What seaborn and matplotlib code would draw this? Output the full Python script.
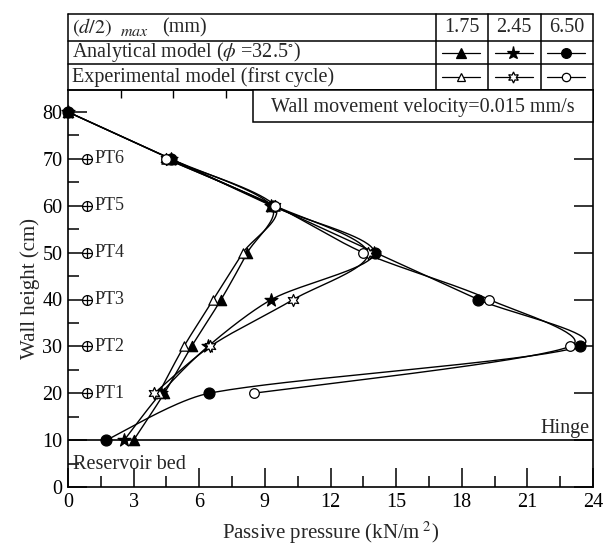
import numpy as np
import pandas as pd
import matplotlib
matplotlib.use("Agg")
import matplotlib.pyplot as plt
import seaborn as sns
from matplotlib.transforms import blended_transform_factory
from matplotlib.patches import Rectangle

# ---------------- data ----------------
heights_analytical = [80, 70, 60, 50, 40, 30, 20, 10]
analytical_175 = [0.0, 4.7, 9.3, 8.2, 7.0, 5.65, 4.4, 3.0]
analytical_245 = [0.0, 4.7, 9.3, 14.0, 9.3, 6.4, 4.25, 2.57]
analytical_650 = [0.0, 4.7, 9.37, 14.05, 18.75, 23.4, 6.45, 1.75]

heights_experimental = [70, 60, 50, 40, 30, 20]
experimental_175 = [4.5, 9.45, 8.0, 6.65, 5.3, 4.15]
experimental_245 = [4.5, 9.45, 13.7, 10.3, 6.5, 3.95]
experimental_650 = [4.48, 9.45, 13.5, 19.25, 22.95, 8.5]

disp_labels = ["1.75", "2.45", "6.50"]
pt_labels = ["PT1", "PT2", "PT3", "PT4", "PT5", "PT6"]
pt_heights = [20, 30, 40, 50, 60, 70]
x_ticks = [0, 3, 6, 9, 12, 15, 18, 21, 24]
y_ticks = [0, 10, 20, 30, 40, 50, 60, 70, 80]
top_ticks = [2.4, 4.8, 7.2, 9.6, 12.0, 14.4, 16.8, 19.2, 21.6]
table_cols = [16.8, 19.2, 21.6, 24.0]

# ---------------- style ----------------
sns.set_theme(style="ticks")
plt.rcParams['font.family'] = ['Liberation Serif', 'DejaVu Serif']
plt.rcParams['mathtext.fontset'] = 'stix'
FS = 14.5

W, H = 605, 551
fig = plt.figure(figsize=(W / 100, H / 100), dpi=100)
fig.patch.set_facecolor("white")
L, R, B, T = 68, 593, 487, 90
ax = fig.add_axes([L / W, 1 - B / H, (R - L) / W, (B - T) / H])
ax.set_facecolor("white")

XMAX, YMAX = 24, (B - T) / ((B - 112) / 80)
ax.set_xlim(0, XMAX)
ax.set_ylim(0, YMAX)
SX = (R - L) / XMAX
SY = (B - T) / YMAX


def smooth(xs, ys, n=40, cap=0.3):
    """Smoothed (Bezier / Catmull-Rom style) rendering of a polyline, in pixel space."""
    P = np.column_stack([np.asarray(xs, float) * SX, np.asarray(ys, float) * SY])
    Pe = np.vstack([P[0], P, P[-1]])
    t = np.linspace(0, 1, n)[:, None]
    out = []
    for i in range(len(P) - 1):
        p0, p3 = Pe[i + 1], Pe[i + 2]
        seg_len = np.linalg.norm(p3 - p0)
        d1 = (Pe[i + 2] - Pe[i]) / 6
        d2 = (Pe[i + 3] - Pe[i + 1]) / 6
        for d in (d1, d2):
            nrm = np.linalg.norm(d)
            if nrm > cap * seg_len:
                d *= cap * seg_len / nrm
        c1 = p0 + d1
        c2 = p3 - d2
        seg = (1 - t) ** 3 * p0 + 3 * (1 - t) ** 2 * t * c1 + 3 * (1 - t) * t ** 2 * c2 + t ** 3 * p3
        out.append(seg if i == 0 else seg[1:])
    out = np.vstack(out)
    return out[:, 0] / SX, out[:, 1] / SY


series = [
    (analytical_175, heights_analytical, '^', True, 55),
    (analytical_245, heights_analytical, '*', True, 95),
    (analytical_650, heights_analytical, 'o', True, 62),
    (experimental_175, heights_experimental, '^', False, 45),
    (experimental_245, heights_experimental, (6, 1, 0), False, 75),
    (experimental_650, heights_experimental, 'o', False, 48),
]

for xs, ys, mk, filled, s in series:
    cx, cy = smooth(xs, ys)
    sns.lineplot(x=cx, y=cy, sort=False, estimator=None, color="black",
                 lw=1.0, ax=ax, zorder=2)
for xs, ys, mk, filled, s in series:
    df = pd.DataFrame({"p": xs, "h": ys})
    sns.scatterplot(data=df, x="p", y="h", marker=mk, s=s,
                    color="black" if filled else "white",
                    edgecolor="black", linewidth=0.9, ax=ax, zorder=4,
                    clip_on=False)

# pressure transducers
dfpt = pd.DataFrame({"x": [0.87] * len(pt_heights), "h": pt_heights})
sns.scatterplot(data=dfpt, x="x", y="h", marker="o", s=50, color="white",
                edgecolor="black", linewidth=0.9, ax=ax, zorder=4)
sns.scatterplot(data=dfpt, x="x", y="h", marker="+", s=50, color="black",
                linewidth=0.9, ax=ax, zorder=5)
for lab, h in zip(pt_labels, pt_heights):
    ax.text(1.2, h, lab, fontsize=13, va="center", ha="left")

# hinge line and labels
ax.axhline(10, color="black", lw=1.2, zorder=1)
ax.text(23.85, 10.4, "Hinge", fontsize=FS, ha="right", va="bottom")
ax.text(0.25, 4.7, "Reservoir bed", fontsize=FS, ha="left", va="center")

# axes styling
for sp in ax.spines.values():
    sp.set_color("black")
    sp.set_linewidth(1.2)
ax.set_xticks(x_ticks)
ax.set_yticks(y_ticks)
ax.set_xticks(np.arange(1.5, 24, 3), minor=True)
ax.set_yticks(np.arange(5, 85, 10), minor=True)
ax.tick_params(axis="both", which="major", direction="in", length=14, width=1.1,
               color="black", labelsize=FS, labelcolor="black", pad=4)
ax.tick_params(axis="both", which="minor", direction="in", length=8, width=1.1,
               color="black")
ax.tick_params(axis="y", which="major", right=True)
ax.tick_params(axis="y", which="minor", right=False)
ax.tick_params(axis="x", which="both", top=False)
ax.set_xlabel(r"Passive pressure (kN/m$^{\ 2}$)", fontsize=FS + 0.5, labelpad=6)
ax.set_ylabel("Wall height (cm)", fontsize=FS + 0.5, labelpad=2)

sec = ax.secondary_xaxis("top")
sec.set_xticks(top_ticks)
sec.tick_params(direction="in", length=6, width=1.0, labeltop=False, color="black")
sec.spines["top"].set_linewidth(1.2)

# wall movement box
tr = blended_transform_factory(ax.transData, ax.transAxes)
box_bottom = (B - 122) / (B - T)
ax.add_patch(Rectangle((8.46, box_bottom), XMAX - 8.46, 1 - box_bottom, transform=tr,
                       facecolor="white", edgecolor="black", lw=1.1, zorder=6,
                       clip_on=False))
ax.text((8.46 + XMAX) / 2, (box_bottom + 1) / 2 - 0.003,
        "Wall movement velocity=0.015 mm/s", transform=tr, fontsize=FS,
        ha="center", va="center", zorder=7)


# table above the axes
def ay(px):
    return (B - px) / (B - T)


rows = [ay(14), ay(41), ay(64), 1.0]
for yv in rows[:-1]:
    ax.plot([0, XMAX], [yv, yv], transform=tr, color="black", lw=1.1, clip_on=False)
ax.plot([0, 0], [1.0, rows[0]], transform=tr, color="black", lw=1.1, clip_on=False)
for xc in table_cols:
    ax.plot([xc, xc], [1.0 - 0.012 if xc < XMAX else 1.0, rows[0]], transform=tr,
            color="black", lw=1.1, clip_on=False)

centers = [(rows[0] + rows[1]) / 2, (rows[1] + rows[2]) / 2, (rows[2] + rows[3]) / 2]
ax.text(0.2, centers[0], r"$(d/2)$", fontsize=FS, ha="left", va="center", transform=tr)
ax.text(2.4, centers[0] - 0.012, r"$max$", fontsize=FS - 3, ha="left", va="center", transform=tr)
ax.text(4.3, centers[0], "(mm)", fontsize=FS, ha="left", va="center", transform=tr)
ax.text(0.2, centers[1], r"Analytical model ($\phi$ =32.5$^{\circ}$)", fontsize=FS,
        ha="left", va="center", transform=tr)
ax.text(0.2, centers[2], "Experimental model (first cycle)", fontsize=FS,
        ha="left", va="center", transform=tr)

leg_markers_an = ['^', '*', 'o']
leg_markers_ex = ['^', (6, 1, 0), 'o']
leg_sizes_an = [6.5, 9.5, 7]
leg_sizes_ex = [6, 8, 6]
for i, lab in enumerate(disp_labels):
    x0, x1 = table_cols[i], table_cols[i + 1]
    xm = (x0 + x1) / 2
    ax.text(xm, centers[0], lab, fontsize=FS, ha="center", va="center", transform=tr)
    for row, mk, ms, fc in ((1, leg_markers_an[i], leg_sizes_an[i], "black"),
                            (2, leg_markers_ex[i], leg_sizes_ex[i], "white")):
        ax.plot([x0 + 0.3, x1 - 0.35], [centers[row]] * 2, transform=tr, color="black",
                lw=0.9, clip_on=False)
        ax.plot([xm - 0.05], [centers[row]], transform=tr, marker=mk, ms=ms,
                mfc=fc, mec="black", mew=0.9, clip_on=False)

fig.savefig("out.png", dpi=100, facecolor="white")
